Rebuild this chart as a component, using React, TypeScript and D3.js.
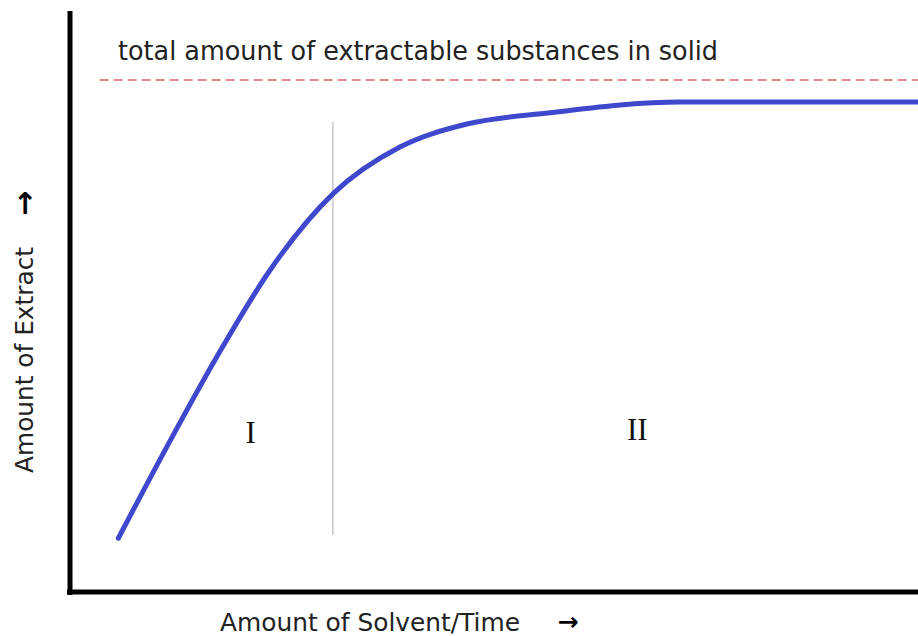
import React from "react";
import * as d3 from "d3";

// Extraction curve (x: amount of solvent/time 0..100, y: amount of extract, 100 = total extractable)
const curveX = [5.7, 11.4, 17.3, 23.6, 31.1, 38.9, 46.8, 56.6, 71.9, 100];
const curveY = [10.5, 28.3, 45.9, 62.9, 77.9, 86.9, 91.4, 93.6, 95.7, 95.7];

const totalLevel = [100];
const totalStartX = [3.5];
const boundaryX = [31.0];
const boundaryY = [11.1, 91.8];
const regionLabels = ["I", "II"];
const regionX = [21.3, 66.9];
const regionY = [29.1, 29.7];

const titleText = "total amount of extractable substances in solid";
const yLabel = "Amount of Extract";
const xLabel = "Amount of Solvent/Time";

export default function App() {
  const W = 918;
  const H = 636;
  const x = d3.scaleLinear().domain([0, 100]).range([70, 918]);
  const y = d3.scaleLinear().domain([0, 100]).range([592, 80]);

  const pts: [number, number][] = curveX.map((v, i) => [v, curveY[i]]);
  const line = d3
    .line<[number, number]>()
    .x((d) => x(d[0]))
    .y((d) => y(d[1]))
    .curve(d3.curveMonotoneX);

  const sans = "'DejaVu Sans', Verdana, sans-serif";
  const serif = "'Liberation Serif', 'Times New Roman', serif";

  return (
    <svg
      width={W}
      height={H}
      style={{ position: "absolute", left: 0, top: 0, display: "block", background: "#fff" }}
    >
      {/* total extractable dashed line */}
      <line
        x1={x(totalStartX[0])}
        x2={x(100)}
        y1={y(totalLevel[0])}
        y2={y(totalLevel[0])}
        stroke="#d46a6a"
        strokeWidth={1.5}
        strokeDasharray="9 5"
      />
      <text x={118} y={60} fontFamily={sans} fontSize={26} fill="#222" textLength={600} lengthAdjust="spacingAndGlyphs">
        {titleText}
      </text>

      {/* boundary between regions */}
      <line
        x1={x(boundaryX[0])}
        x2={x(boundaryX[0])}
        y1={y(boundaryY[0])}
        y2={y(boundaryY[1])}
        stroke="#c8c8c8"
        strokeWidth={1.5}
      />

      {/* curve */}
      <path d={line(pts) || ""} fill="none" stroke="#3f48cc" strokeWidth={5} strokeLinecap="round" strokeLinejoin="round" />

      {/* region labels */}
      {regionLabels.map((t, i) => (
        <text key={t} x={x(regionX[i])} y={y(regionY[i])} textAnchor="middle" fontFamily={serif} fontSize={31} fill="#111">
          {t}
        </text>
      ))}

      {/* axes */}
      <line x1={x(0)} x2={x(0)} y1={y(113.5)} y2={y(0) + 3} stroke="#000" strokeWidth={5} />
      <line x1={x(0) - 3} x2={x(100)} y1={y(0)} y2={y(0)} stroke="#000" strokeWidth={5} />

      {/* axis labels */}
      <text
        transform={`translate(33,360) rotate(-90)`}
        textAnchor="middle"
        fontFamily={sans}
        fontSize={25}
        fill="#222"
        textLength={226}
        lengthAdjust="spacingAndGlyphs"
      >
        {yLabel}
      </text>
      <text x={25} y={214} textAnchor="middle" fontFamily={sans} fontWeight="bold" fontSize={30} fill="#000">
        ↑
      </text>
      <text x={220} y={631} fontFamily={sans} fontSize={25} fill="#222" textLength={300} lengthAdjust="spacingAndGlyphs">
        {xLabel}
      </text>
      <text x={568} y={630} textAnchor="middle" fontFamily={sans} fontWeight="bold" fontSize={25} fill="#000">
        →
      </text>
    </svg>
  );
}
